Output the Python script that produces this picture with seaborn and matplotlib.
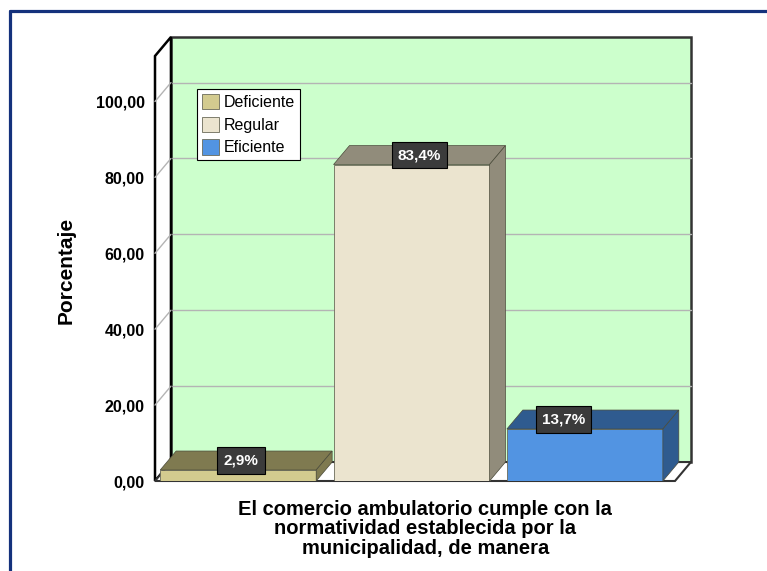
import numpy as np
import pandas as pd
import seaborn as sns
import matplotlib.pyplot as plt
from matplotlib.patches import Polygon
from matplotlib.lines import Line2D

# datos del grafico
categorias = ['Deficiente', 'Regular', 'Eficiente']
porcentajes = [2.9, 83.4, 13.7]
etiquetas = ['2,9%', '83,4%', '13,7%']
ticks_y = [0, 20, 40, 60, 80, 100]
ticks_txt = ['0,00', '20,00', '40,00', '60,00', '80,00', '100,00']
titulo_x = 'El comercio ambulatorio cumple con la\nnormatividad establecida por la\nmunicipalidad, de manera'
titulo_y = 'Porcentaje'

# colores estilo SPSS
color_frente = ['#d3cb8f', '#ebe4cf', '#5294e2']
color_lado = ['#7f7a50', '#918c7b', '#2f5b8f']
desplaz_etiq = [-0.03, 0.0, -0.17]

sns.set_style('white')
plt.rcParams['font.family'] = ['Liberation Sans', 'DejaVu Sans']
plt.rcParams['text.color'] = 'black'
plt.rcParams['axes.labelcolor'] = 'black'
plt.rcParams['ytick.color'] = 'black'

df = pd.DataFrame({'cat': categorias, 'pct': porcentajes})

fig = plt.figure(figsize=(7.67, 5.71), dpi=100)
ax = fig.add_axes([155/767, 90/571, 520/767, 425/571])

YMAX = 112
DX, DY = 0.092, 5.0   # profundidad del efecto 3D
x0, x1 = -0.5, 2.5

# pared del fondo, pared izquierda y piso
ax.add_patch(Polygon([(x0+DX, DY), (x1+DX, DY), (x1+DX, YMAX+DY), (x0+DX, YMAX+DY)],
                     closed=True, fc='#ccffcc', ec='#333333', lw=1.8, zorder=0, clip_on=False))
for v in ticks_y[1:]:
    ax.plot([x0+DX, x1+DX], [v+DY, v+DY], color='#b4b4b4', lw=1, zorder=0.2, clip_on=False)
ax.add_patch(Polygon([(x0, 0), (x0+DX, DY), (x0+DX, YMAX+DY), (x0, YMAX)],
                     closed=True, fc='white', ec='black', lw=1.8, zorder=0.5, clip_on=False))
for v in ticks_y[1:]:
    ax.plot([x0, x0+DX], [v, v+DY], color='#b4b4b4', lw=1, zorder=0.6, clip_on=False)
ax.add_patch(Polygon([(x0, 0), (x1, 0), (x1+DX, DY), (x0+DX, DY)],
                     closed=True, fc='white', ec='#333333', lw=1.5, zorder=0.7, clip_on=False))

# barras (cara frontal)
sns.barplot(data=df, x='cat', y='pct', hue='cat', palette=color_frente, width=0.9,
            saturation=1, ax=ax, legend=True, edgecolor='#6b6b5a', linewidth=0.6, zorder=2)

barras = [c[0] for c in ax.containers]
for i, b in enumerate(barras):
    b.set_x(b.get_x() - 0.02)
    bx0 = b.get_x()
    bx1 = bx0 + b.get_width()
    h = b.get_height()
    # cara superior
    ax.add_patch(Polygon([(bx0, h), (bx1, h), (bx1+DX, h+DY), (bx0+DX, h+DY)], closed=True,
                         fc=color_lado[i], ec='#4a4a3a', lw=0.5, zorder=2, clip_on=False))
    # cara lateral
    ax.add_patch(Polygon([(bx1, 0), (bx1, h), (bx1+DX, h+DY), (bx1+DX, DY)], closed=True,
                         fc=color_lado[i], ec='#4a4a3a', lw=0.5, zorder=2, clip_on=False))
    ax.text(bx0 + b.get_width()/2 + DX/2 + desplaz_etiq[i], h + DY/2, etiquetas[i],
            ha='center', va='center', color='white', fontsize=11, fontweight='bold', zorder=5,
            bbox=dict(boxstyle='square,pad=0.4', fc='#3b3b3b', ec='black', lw=0.8))

handles, labels = ax.get_legend_handles_labels()
leg = ax.legend(handles, labels, loc='upper left', bbox_to_anchor=(197/767, 1-89/571),
                bbox_transform=fig.transFigure, frameon=True, fancybox=False, edgecolor='black',
                framealpha=1, fontsize=11.5, handlelength=1.1, handleheight=1.1,
                handletextpad=0.3, labelspacing=0.42, borderpad=0.3, borderaxespad=0)
leg.get_frame().set_linewidth(0.8)
leg.set_zorder(6)

ax.set_xlim(x0, x1)
ax.set_ylim(0, YMAX)
ax.set_xticks([])
ax.set_yticks(ticks_y, ticks_txt, fontsize=11.5, fontweight='bold')
ax.tick_params(axis='y', length=0, pad=7.5)
for s in ax.spines.values():
    s.set_visible(False)
ax.patch.set_visible(False)

ax.set_xlabel(titulo_x, fontsize=14.5, fontweight='bold', linespacing=1.02)
ax.xaxis.set_label_coords(0.52, -0.045)
ax.set_ylabel(titulo_y, fontsize=15, fontweight='bold')
ax.yaxis.set_label_coords(-0.171, 0.496)
ax.yaxis.label.set_va('center')

# marco azul del visor
fig.add_artist(Line2D([10/767, 10/767], [0, 1-10.5/571], color='#14317c', lw=2.3))
fig.add_artist(Line2D([10/767, 1], [1-10.5/571, 1-10.5/571], color='#14317c', lw=2.3))

fig.savefig('out.png', dpi=100)
